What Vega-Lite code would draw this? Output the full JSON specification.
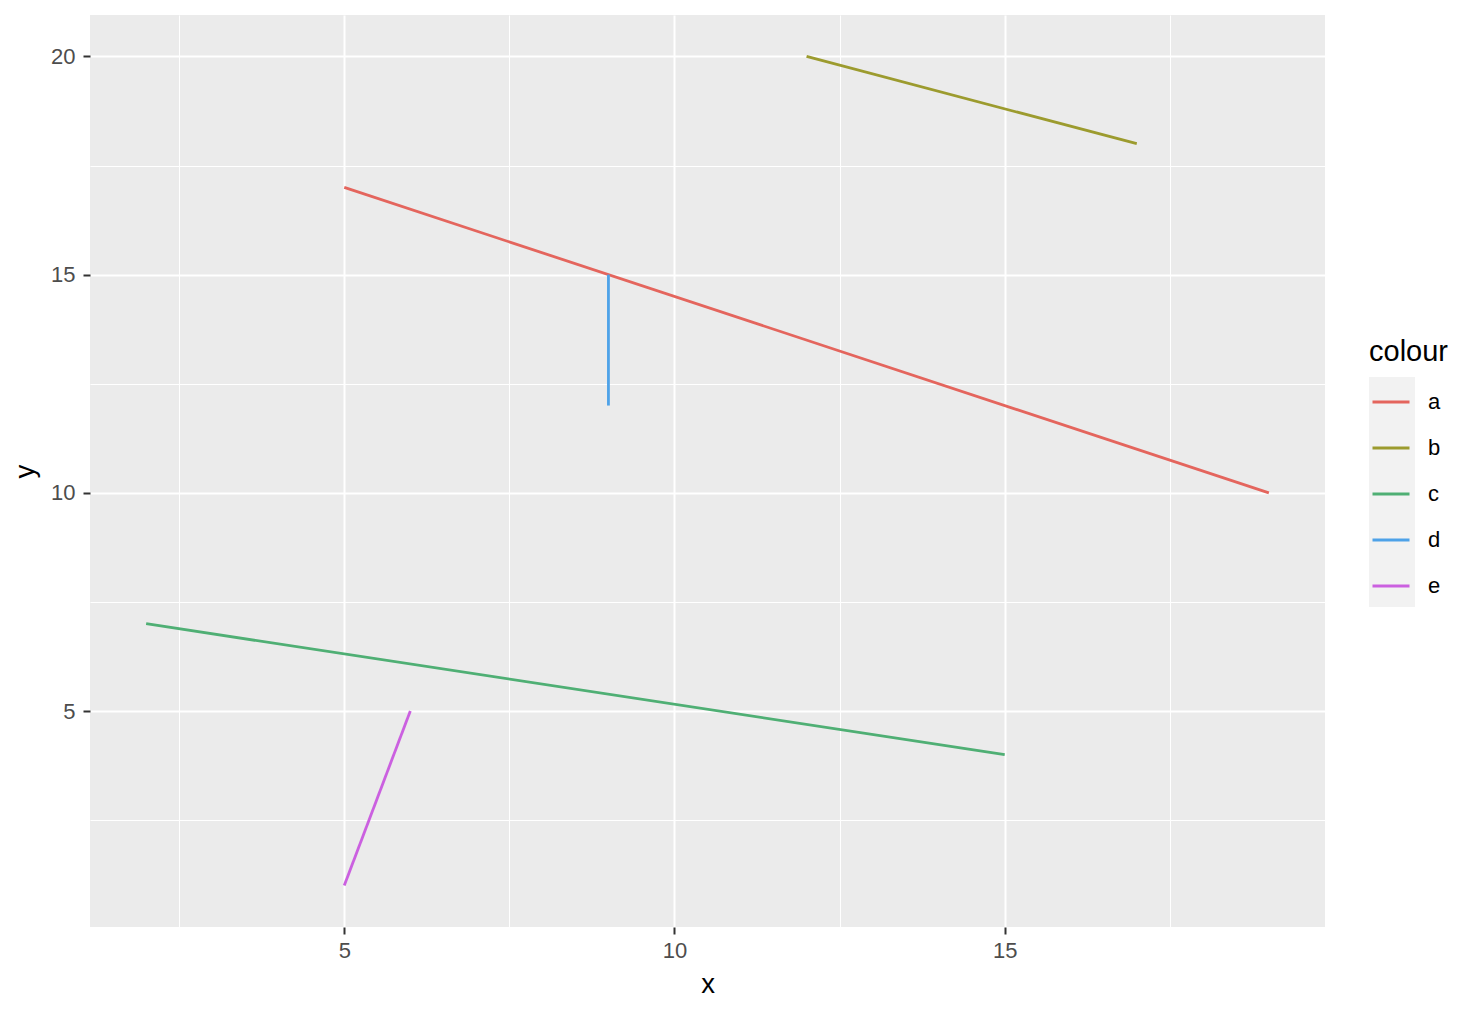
{
  "$schema": "https://vega.github.io/schema/vega-lite/v6.json",
  "width": 1235,
  "height": 912,
  "autosize": {"type": "none"},
  "padding": {"left": 90, "top": 15, "right": 153, "bottom": 85},
  "background": "white",
  "config": {
    "font": "Liberation Sans",
    "view": {"fill": "#EBEBEB", "stroke": null},
    "axis": {
      "domain": false,
      "gridColor": "white",
      "labelFont": "Liberation Sans",
      "titleFont": "Liberation Sans"
    },
    "legend": {"padding": 0}
  },
  "data": {
    "values": [
      {"colour": "a", "x": 5, "y": 17, "xend": 19, "yend": 10},
      {"colour": "b", "x": 12, "y": 20, "xend": 17, "yend": 18},
      {"colour": "c", "x": 2, "y": 7, "xend": 15, "yend": 4},
      {"colour": "d", "x": 9, "y": 15, "xend": 9, "yend": 12},
      {"colour": "e", "x": 5, "y": 1, "xend": 6, "yend": 5}
    ]
  },
  "resolve": {"axis": {"x": "independent", "y": "independent"}},
  "layer": [
    {
      "mark": {"type": "point", "opacity": 0, "filled": true},
      "encoding": {
        "x": {"field": "x", "type": "quantitative", "scale": {"domain": [1.15, 19.85], "nice": false, "zero": false},
          "axis": {"orient": "bottom", "values": [2.5, 7.5, 12.5, 17.5], "grid": true, "gridWidth": 1, "labels": false, "ticks": false, "title": null}},
        "y": {"field": "y", "type": "quantitative", "scale": {"domain": [0.05, 20.95], "nice": false, "zero": false},
          "axis": {"orient": "left", "values": [2.5, 7.5, 12.5, 17.5], "grid": true, "gridWidth": 1, "labels": false, "ticks": false, "title": null}},
        "color": {"field": "colour", "type": "nominal",
          "scale": {"range": ["#F2F2F2", "#F2F2F2", "#F2F2F2", "#F2F2F2", "#F2F2F2"]},
          "legend": {"orient": "none", "legendX": 1279, "legendY": 362, "title": null, "symbolType": "square", "symbolSize": 2116, "symbolOpacity": 1,
            "symbolStrokeWidth": 0, "clipHeight": 46, "rowPadding": 0, "labelExpr": "''", "labelFontSize": 1, "labelOffset": 0}}
      }
    },
    {
      "mark": {"type": "rule", "strokeWidth": 2.8},
      "encoding": {
        "x": {"field": "x", "type": "quantitative", "scale": {"domain": [1.15, 19.85], "nice": false, "zero": false},
          "axis": {"orient": "bottom", "values": [5, 10, 15], "grid": true, "gridWidth": 2, "tickColor": "#333333", "tickSize": 7, "tickWidth": 2,
            "labelFontSize": 22, "labelColor": "#4D4D4D", "labelPadding": 6, "title": "x", "titleFontSize": 27.5, "titleFontWeight": "normal", "titleColor": "black", "titlePadding": 9}},
        "y": {"field": "y", "type": "quantitative", "scale": {"domain": [0.05, 20.95], "nice": false, "zero": false},
          "axis": {"orient": "left", "values": [5, 10, 15, 20], "grid": true, "gridWidth": 2, "tickColor": "#333333", "tickSize": 7, "tickWidth": 2,
            "labelFontSize": 22, "labelColor": "#4D4D4D", "labelPadding": 8, "title": "y", "titleFontSize": 27.5, "titleFontWeight": "normal", "titleColor": "black", "titlePadding": 11}},
        "x2": {"field": "xend"},
        "y2": {"field": "yend"},
        "stroke": {"field": "colour", "type": "nominal",
          "scale": {"domain": ["a", "b", "c", "d", "e"], "range": ["#E4655D", "#9C9B2E", "#4FAF74", "#4EA2E8", "#CB60E0"]},
          "legend": {"orient": "none", "legendX": 1279, "legendY": 323, "title": "colour", "titleFontSize": 29, "titleFontWeight": "normal", "titleColor": "black", "titlePadding": 12,
            "symbolType": "stroke", "symbolSize": 1369, "symbolStrokeWidth": 2.8, "symbolOffset": 2, "clipHeight": 46, "labelFontSize": 22, "labelColor": "black", "labelOffset": 17, "rowPadding": 0}}
      }
    }
  ]
}
